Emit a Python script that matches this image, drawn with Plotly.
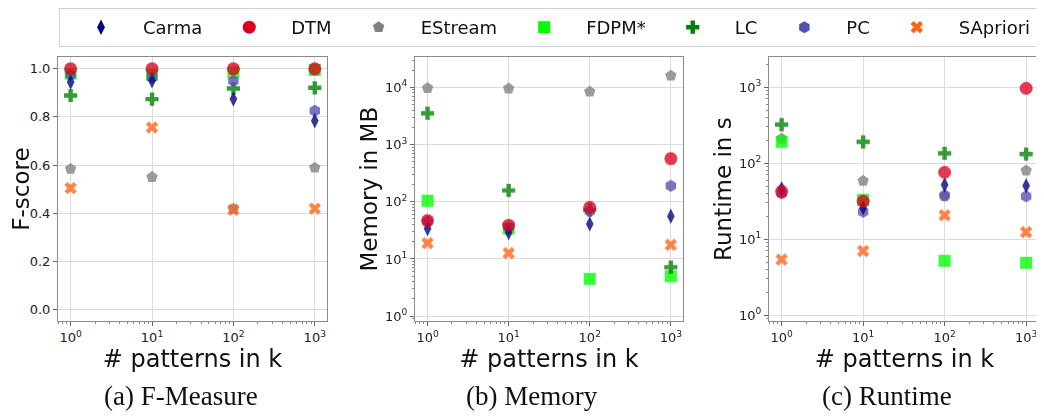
import plotly.graph_objects as go

# ---------------- data ----------------
patterns_k = [1, 10, 100, 1000]
methods = ["Carma", "DTM", "EStream", "FDPM*", "LC", "PC", "SApriori"]

fscore = {
    "Carma":    [0.945, 0.950, 0.874, 0.784],
    "DTM":      [1.000, 1.000, 1.000, 1.000],
    "EStream":  [0.584, 0.550, 0.418, 0.589],
    "FDPM*":    [0.980, 0.975, 0.985, 0.995],
    "LC":       [0.889, 0.874, 0.918, 0.921],
    "PC":       [0.975, 0.965, 0.949, 0.826],
    "SApriori": [0.504, 0.756, 0.414, 0.419],
}
memory_mb = {
    "Carma":    [34, 29, 41, 56],
    "DTM":      [47, 39, 80, 569],
    "EStream":  [9700, 9500, 8400, 16000],
    "FDPM*":    [104, 34, 4.5, 5.0],
    "LC":       [3530, 158, 72, 7.2],
    "PC":       [45, 36, 68, 190],
    "SApriori": [18.9, 12.7, None, 17.7],
}
runtime_s = {
    "Carma":    [46, 26, 52, 50.6],
    "DTM":      [42.6, 31.6, 76, 968],
    "EStream":  [210, 58.6, 36.7, 80],
    "FDPM*":    [191, 33, 5.2, 4.9],
    "LC":       [322, 191, 135, 132],
    "PC":       [40, 23, 37.8, 36.7],
    "SApriori": [5.4, 7.0, 20.7, 12.4],
}

x_tickvals = [1, 10, 100, 1000]
x_ticktext = ["10<sup>0</sup>", "10<sup>1</sup>", "10<sup>2</sup>", "10<sup>3</sup>"]
mem_tickvals = [1, 10, 100, 1000, 10000]
mem_ticktext = ["10<sup>0</sup>", "10<sup>1</sup>", "10<sup>2</sup>", "10<sup>3</sup>", "10<sup>4</sup>"]
rt_tickvals = [1, 10, 100, 1000]
rt_ticktext = ["10<sup>0</sup>", "10<sup>1</sup>", "10<sup>2</sup>", "10<sup>3</sup>"]

y_titles = ["F-score", "Memory in MB", "Runtime in s"]
x_title = "# patterns in k"
captions = ["(a) F-Measure", "(b) Memory", "(c) Runtime"]

# ---------------- styles ----------------
style = {
    "Carma":    dict(symbol="diamond-tall", color="#000080", size=11),
    "DTM":      dict(symbol="circle", color="#dc0020", size=13),
    "EStream":  dict(symbol="pentagon", color="#808080", size=12),
    "FDPM*":    dict(symbol="square", color="#00ff00", size=12),
    "LC":       dict(symbol="cross", color="#008000", size=11),
    "PC":       dict(symbol="hexagon", color="#5050b0", size=12),
    "SApriori": dict(symbol="x", color="#ff6318", size=11),
}
draw_order = ["EStream", "FDPM*", "LC", "PC", "Carma", "SApriori", "DTM"]

fig = go.Figure()

# legend entries (opaque, no data)
for m in methods:
    s = style[m]
    fig.add_trace(go.Scatter(
        x=[None], y=[None], mode="markers", name=m, legendgroup=m,
        marker=dict(symbol=s["symbol"], color=s["color"], size=s["size"], line=dict(width=0)),
        xaxis="x", yaxis="y", showlegend=True))

panels = [(fscore, "x", "y"), (memory_mb, "x2", "y2"), (runtime_s, "x3", "y3")]
for data, xa, ya in panels:
    for m in draw_order:
        s = style[m]
        fig.add_trace(go.Scatter(
            x=patterns_k, y=data[m], mode="markers", name=m, legendgroup=m,
            showlegend=False, opacity=0.78,
            marker=dict(symbol=s["symbol"], color=s["color"], size=s["size"], line=dict(width=0)),
            xaxis=xa, yaxis=ya))

# The page body adds an 8px offset; work in reference pixel coords and shift.
OFF = 8
W, H = 1044 - OFF, 416 - OFF


def px_x(x):
    return (x - OFF) / W


def px_y(y):
    return (H - (y - OFF)) / H


x_domains = [(58, 327), (415, 683), (769, 1040)]
y_dom = [px_y(323), px_y(57)]

tick_font = dict(family="DejaVu Sans", size=13, color="#222")
title_font = dict(family="DejaVu Sans", size=23, color="#111")

common_axis = dict(
    showline=True, linecolor="#8a8a8a", linewidth=1, mirror=True,
    showgrid=True, gridcolor="#dcdcdc", gridwidth=1, zeroline=False,
    ticks="outside", ticklen=4, tickcolor="#666", tickfont=tick_font,
)
log_minor = dict(ticks="outside", ticklen=2, tickcolor="#888", dtick="D1", showgrid=False)

layout = dict(
    width=W, height=H, margin=dict(l=0, r=0, t=0, b=0),
    paper_bgcolor="white", plot_bgcolor="white",
    showlegend=True,
    legend=dict(orientation="h", x=px_x(59), xanchor="left", y=1.0, yanchor="top",
                font=dict(family="DejaVu Sans", size=18, color="#111"),
                bordercolor="#d0d0d0", borderwidth=1, itemwidth=74,
                itemsizing="trace", tracegroupgap=0),
)

xranges = [[-0.155, 3.15], [-0.155, 3.15], [-0.155, 3.17]]
for i, (x0, x1) in enumerate(x_domains):
    suffix = "" if i == 0 else str(i + 1)
    layout["xaxis" + suffix] = dict(
        common_axis, type="log", domain=[px_x(x0), px_x(x1)], range=xranges[i],
        tickvals=x_tickvals, ticktext=x_ticktext, minor=log_minor,
        anchor="y" + suffix,
        title=dict(text=x_title, font=dict(family="DejaVu Sans", size=24, color="#111"), standoff=0),
    )

layout["yaxis"] = dict(common_axis, domain=y_dom, range=[-0.05, 1.05], dtick=0.2, tickformat=".1f",
                       anchor="x", title=dict(text=y_titles[0], font=title_font, standoff=0))
layout["yaxis2"] = dict(common_axis, type="log", domain=y_dom, range=[-0.092, 4.534],
                        tickvals=mem_tickvals, ticktext=mem_ticktext, minor=log_minor,
                        anchor="x2", title=dict(text=y_titles[1], font=title_font, standoff=0))
layout["yaxis3"] = dict(common_axis, type="log", domain=y_dom, range=[-0.082, 3.40],
                        tickvals=rt_tickvals, ticktext=rt_ticktext, minor=log_minor,
                        anchor="x3", title=dict(text=y_titles[2], font=title_font, standoff=0))

cap_x = [181, 532, 887]
layout["annotations"] = [
    dict(text=c, x=px_x(cx), y=px_y(398), xref="paper", yref="paper", showarrow=False,
         xanchor="center", yanchor="middle",
         font=dict(family="Liberation Serif", size=27, color="#111"))
    for c, cx in zip(captions, cap_x)
]

fig.update_layout(layout)
fig.write_html("out.html")
